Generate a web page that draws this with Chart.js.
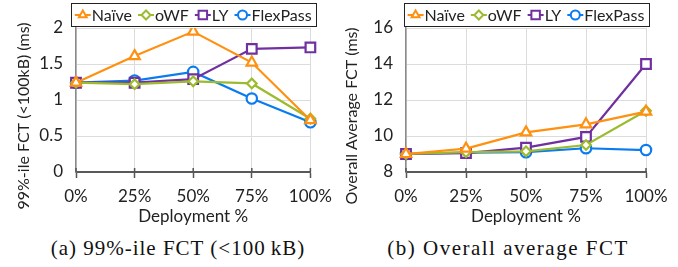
<!DOCTYPE html>
<html><head><meta charset="utf-8">
<script src="https://cdn.jsdelivr.net/npm/chart.js@4/dist/chart.umd.min.js"></script>
<style>
body{margin:0;width:678px;height:267px;background:#fff;overflow:hidden;position:relative}
.c{position:absolute;top:0}
.cap{position:absolute;font-family:"Liberation Serif","DejaVu Serif",serif;font-size:21px;color:#111;white-space:nowrap;transform:translateX(-50%);line-height:24px}
</style></head><body>
<div class="c" style="left:0"><canvas id="a" width="340" height="228"></canvas></div>
<div class="c" style="left:340px"><canvas id="b" width="338" height="228"></canvas></div>
<div class="cap" style="left:178px;top:236px;letter-spacing:1px">(a) 99%-ile FCT (&lt;100&thinsp;kB)</div>
<div class="cap" style="left:508px;top:236px;letter-spacing:1.5px">(b) Overall average FCT</div>
<script>
// ---- data ----
const categories = ['0%', '25%', '50%', '75%', '100%'];
const seriesNames = ['Naïve', 'oWF', 'LY', 'FlexPass'];
const fct99Naive = [1.24, 1.61, 1.95, 1.52, 0.72];
const fct99OWF   = [1.24, 1.22, 1.26, 1.23, 0.74];
const fct99LY    = [1.24, 1.24, 1.29, 1.71, 1.73];
const fct99Flex  = [1.24, 1.27, 1.39, 1.02, 0.69];
const avgNaive = [9.0, 9.3, 10.2, 10.65, 11.35];
const avgOWF   = [9.0, 9.1, 9.15, 9.5, 11.4];
const avgLY    = [9.0, 9.05, 9.35, 9.95, 14.0];
const avgFlex  = [9.0, 9.08, 9.1, 9.32, 9.22];
const ticksA = [0, 0.5, 1, 1.5, 2];
const ticksB = [8, 10, 12, 14, 16];

// ---- styles ----
const colors = ['#FF9010', '#9DBB2E', '#7030A0', '#0A7CF0'];
const styles = ['triangle', 'rectRot', 'rect', 'circle'];
const radii = [6, 4.8, 6.8, 5.2];
const FONT = 'Lato, "Open Sans", sans-serif';

function drawMarker(ctx, style, x, y, r) {
  ctx.beginPath();
  if (style === 'circle') ctx.arc(x, y, r, 0, Math.PI * 2);
  else if (style === 'triangle') {
    ctx.moveTo(x, y - r); ctx.lineTo(x + r * 0.866, y + r * 0.5); ctx.lineTo(x - r * 0.866, y + r * 0.5); ctx.closePath();
  } else if (style === 'rectRot') {
    ctx.moveTo(x, y - r); ctx.lineTo(x + r, y); ctx.lineTo(x, y + r); ctx.lineTo(x - r, y); ctx.closePath();
  } else {
    const s = r * Math.SQRT1_2; ctx.rect(x - s, y - s, 2 * s, 2 * s);
  }
  ctx.fill(); ctx.stroke();
}

const legendBox = {
  id: 'legendBox',
  afterDraw(chart) {
    const ctx = chart.ctx, ca = chart.chartArea;
    ctx.save();
    ctx.font = '16px ' + FONT;
    const lineW = 16, gap = 1, itemGap = 6;
    const ds = chart.data.datasets;
    const tw = ds.map(d => ctx.measureText(d.label).width);
    const total = tw.reduce((s, w) => s + w + lineW + gap, 0) + itemGap * (ds.length - 1);
    const cx = (ca.left + ca.right) / 2;
    const boxW = total + 8;
    ctx.fillStyle = '#fff';
    ctx.fillRect(cx - boxW / 2, 3, boxW, 23);
    ctx.strokeStyle = '#222'; ctx.lineWidth = 1;
    ctx.strokeRect(Math.round(cx - boxW / 2) + 0.5, 3.5, Math.round(boxW), 23);
    let x = cx - total / 2;
    const y = 15;
    ds.forEach((d, i) => {
      ctx.strokeStyle = d.borderColor; ctx.lineWidth = 2;
      ctx.beginPath(); ctx.moveTo(x, y); ctx.lineTo(x + lineW, y); ctx.stroke();
      ctx.fillStyle = '#fff';
      drawMarker(ctx, d.pointStyle, x + lineW / 2, y, d.pointStyle === 'rect' ? 6 : 4.5);
      ctx.fillStyle = '#222'; ctx.textBaseline = 'middle'; ctx.textAlign = 'left';
      ctx.fillText(d.label, x + lineW + gap, y + 1);
      x += lineW + gap + tw[i] + itemGap;
    });
    ctx.restore();
  }
};

// short dark tick marks crossing the x axis line (above part)
const xTickUp = {
  id: 'xTickUp',
  afterDraw(chart) {
    const ctx = chart.ctx, xs = chart.scales.x, b = chart.chartArea.bottom;
    ctx.save(); ctx.strokeStyle = '#555'; ctx.lineWidth = 1.5;
    xs.ticks.forEach((t, i) => {
      const px = xs.getPixelForTick(i);
      ctx.beginPath(); ctx.moveTo(px, b - 4); ctx.lineTo(px, b); ctx.stroke();
    });
    ctx.restore();
  }
};

// y-axis title, drawn rotated (placed like the original, a bit below the plot centre)
const yTitle = {
  id: 'yTitle',
  afterDraw(chart, args, opts) {
    const ctx = chart.ctx;
    ctx.save();
    ctx.translate(opts.x, opts.y);
    ctx.rotate(-Math.PI / 2);
    ctx.font = '16px ' + FONT; ctx.fillStyle = '#222';
    ctx.textAlign = 'center'; ctx.textBaseline = 'middle';
    ctx.fillText(opts.text, 0, 0);
    ctx.restore();
  }
};

function makeChart(id, series, yTicks, yTitleText, yWidth, rightPad, titleX) {
  const datasets = series.map((vals, i) => ({
    label: seriesNames[i], data: vals,
    borderColor: colors[i], backgroundColor: '#fff',
    borderWidth: 2.2, pointStyle: styles[i], pointRadius: radii[i],
    pointBorderWidth: 2.2, pointBackgroundColor: '#fff', pointBorderColor: colors[i],
    tension: 0
  }));
  return new Chart(document.getElementById(id), {
    type: 'line',
    data: { labels: categories, datasets },
    options: {
      responsive: false, animation: false, devicePixelRatio: 1,
      layout: { padding: { top: 28, right: rightPad, bottom: 0, left: 0 } },
      plugins: { legend: { display: false }, tooltip: { enabled: false },
                 yTitle: { text: yTitleText, x: titleX, y: 116 } },
      scales: {
        x: {
          offset: false,
          grid: { color: '#dcdcdc', lineWidth: 1, tickLength: 6, tickColor: '#555', tickWidth: 1.5 },
          border: { color: '#595959', width: 2 },
          ticks: { font: { family: FONT, size: 17 }, color: '#222', padding: 8, maxRotation: 0 },
          title: { display: true, text: 'Deployment %', font: { family: FONT, size: 17 }, color: '#222', padding: { top: 0, bottom: 1 } },
          afterFit(s) { s.height = 56; }
        },
        y: {
          min: yTicks[0], max: yTicks[yTicks.length - 1],
          afterBuildTicks(s) { s.ticks = yTicks.map(v => ({ value: v })); },
          grid: { color: '#dcdcdc', lineWidth: 1, drawTicks: false },
          border: { color: '#8a8a8a', width: 1.5 },
          ticks: { font: { family: FONT, size: 17 }, color: '#222', padding: 13, callback: v => String(v) },
          title: { display: false },
          afterFit(s) { s.width = yWidth; }
        }
      }
    },
    plugins: [legendBox, xTickUp, yTitle]
  });
}

makeChart('a', [fct99Naive, fct99OWF, fct99LY, fct99Flex], ticksA, '99%-ile FCT (<100kB) (ms)', 76, 24, 24);
makeChart('b', [avgNaive, avgOWF, avgLY, avgFlex], ticksB, 'Overall Average FCT (ms)', 66, 32, 12);
</script>
</body></html>
